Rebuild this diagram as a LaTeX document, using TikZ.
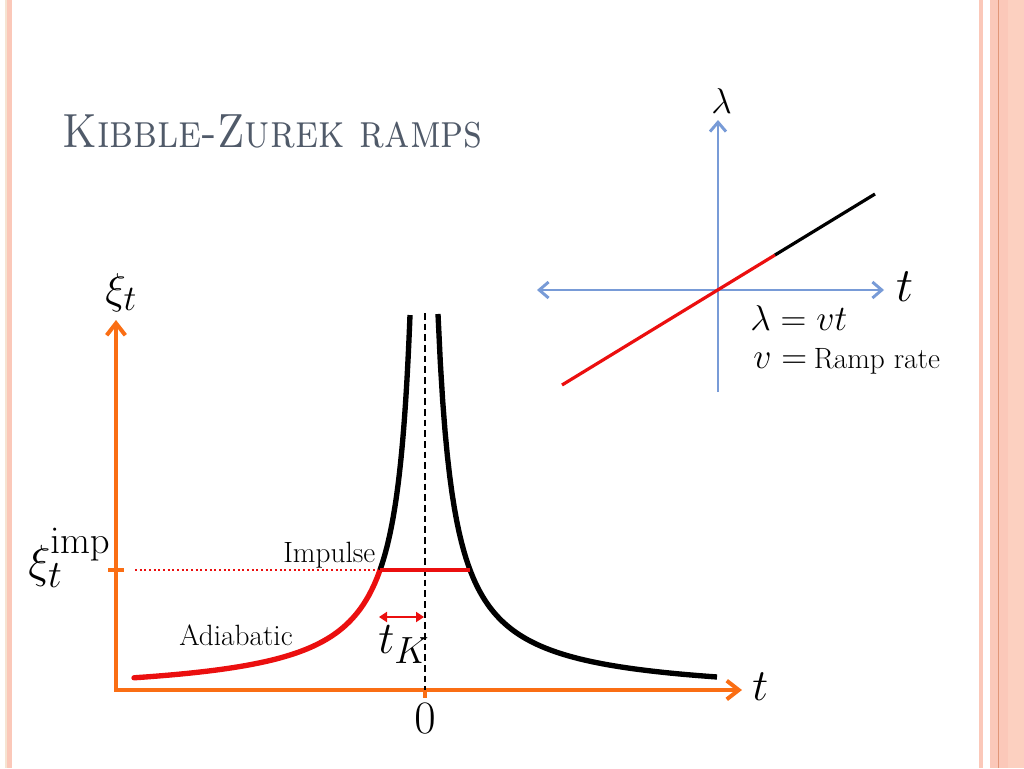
\documentclass[tikz,border=0pt]{standalone}
\usetikzlibrary{arrows.meta}
\definecolor{orng}{RGB}{250,110,20}
\definecolor{axblue}{RGB}{120,155,215}
\definecolor{rred}{RGB}{235,15,15}
\definecolor{titlecol}{RGB}{80,90,105}
\definecolor{pinkA}{RGB}{251,200,185}
\definecolor{pinkB}{RGB}{252,208,192}
\definecolor{tanA}{RGB}{246,228,210}
\definecolor{pinkline}{RGB}{225,150,120}
\newcommand{\mscl}[2]{\scalebox{#1}{\Huge$#2$}}
\begin{document}
\begin{tikzpicture}[x=0.75pt,y=-0.75pt,
  lbl/.style={inner sep=0pt, anchor=base west},
  smalltext/.style={lbl, font=\fontsize{22}{24}\selectfont},
  mainaxis/.style={draw=orng, line width=3pt, {Straight Barb[length=9pt,width=14pt,line width=3pt]}-{Straight Barb[length=9pt,width=14pt,line width=3pt]}},
  blueaxis/.style={draw=axblue, line width=2.2pt, {Straight Barb[length=7pt,width=12pt,line width=2.2pt]}-{Straight Barb[length=7pt,width=12pt,line width=2.2pt]}},
  curve/.style={line width=4pt},
]
\useasboundingbox (0,0) rectangle (1024,768);
% borders
\fill[tanA] (5,0) rectangle (7,768);
\fill[pinkA] (7,0) rectangle (12,768);
\fill[pinkA] (979,0) rectangle (983,768);
\fill[pinkA] (990,0) rectangle (1008,768);
\fill[pinkB] (1008,0) rectangle (1024,768);
\draw[pinkline, line width=0.75pt] (998.5,0) -- (998.5,768);

% title
\node[lbl, text=titlecol, font=\fontsize{36}{40}\selectfont] (title) at (62,147) {\scalebox{0.86}[1]{\textsc{Kibble-Zurek ramps}}};

% ---- top-right ramp diagram
\coordinate (o2) at (718,290);
\coordinate (l2top) at (718,120);
\coordinate (l2bot) at (718,392);
\coordinate (t2left) at (537,290);
\coordinate (t2right) at (884,290);
\draw[blueaxis, -{Straight Barb[length=7pt,width=12pt,line width=2.2pt]}] (l2bot) -- (l2top);
\draw[blueaxis] (t2left) -- (t2right);
\coordinate (r0) at (562,385);
\coordinate (r1) at (775,255);
\coordinate (r2) at (875,194);
\draw[rred, line width=2.4pt] (r0) -- (r1);
\draw[black, line width=2.4pt] (r1) -- (r2);
\node[lbl] (lam) at (711,113) {\mscl{1.08}{\lambda}};
\node[lbl] (t2) at (896,301) {\mscl{1.45}{t}};
\node[lbl] (eq1) at (750,330) {\mscl{1.08}{\lambda = vt}};
\node[lbl] (eq2) at (753,368) {\mscl{1.08}{v =}\hspace{5pt}{\fontsize{22}{24}\selectfont Ramp rate}};

% ---- main plot
\coordinate (ytop) at (116,320);
\coordinate (orig) at (116,690);
\coordinate (xend) at (742,690);
\draw[mainaxis, line cap=butt] (ytop) -- (orig) -- (xend);
\draw[orng, line width=3pt] (108,570) -- (124,570);
\draw[orng, line width=3pt] (425,690) -- (425,698);

% dashed centre line
\draw[black, line width=1.5pt, dash pattern=on 5pt off 3pt] (425,313) -- (425,690);

% dotted level line
\draw[rred, line width=1.5pt, dash pattern=on 1.5pt off 2pt] (135,570) -- (378,570);

% curves
\draw[curve, rred, line cap=round] plot[domain=45:291, samples=90] ({425-\x},{697.5-5737/\x});
\draw[curve, black] plot[domain=15:45, samples=60] ({425-\x},{697.5-5737/\x});
\draw[curve, black] plot[domain=13:292, samples=120] ({425+\x},{697.8-6141/(\x+3)});
\draw[rred, line width=3pt] (380,570) -- (470,570);

% t_K arrow
\coordinate (kA) at (379,617);
\coordinate (kB) at (424,617);
\draw[rred, line width=1.6pt, {Triangle[length=6pt,width=7.5pt]}-{Triangle[length=6pt,width=7.5pt]}] (kA) -- (kB);

% labels
\node[lbl] (xi) at (105,303) {\mscl{1.3}{\xi_t}};
\node[lbl] (xiimp) at (28,577) {\mscl{1.4}{\xi_t^{\mathrm{imp}}}};
\node[lbl] (tax) at (752,700) {\mscl{1.35}{t}};
\node[inner sep=0pt, anchor=base] (zero) at (425,733) {\mscl{1.4}{0}};
\node[lbl] (tk) at (378,653) {\mscl{1.37}{t_K}};
\node[smalltext] (imp) at (283,562) {Impulse};
\node[smalltext] (adi) at (179,645) {Adiabatic};
\end{tikzpicture}
\end{document}
